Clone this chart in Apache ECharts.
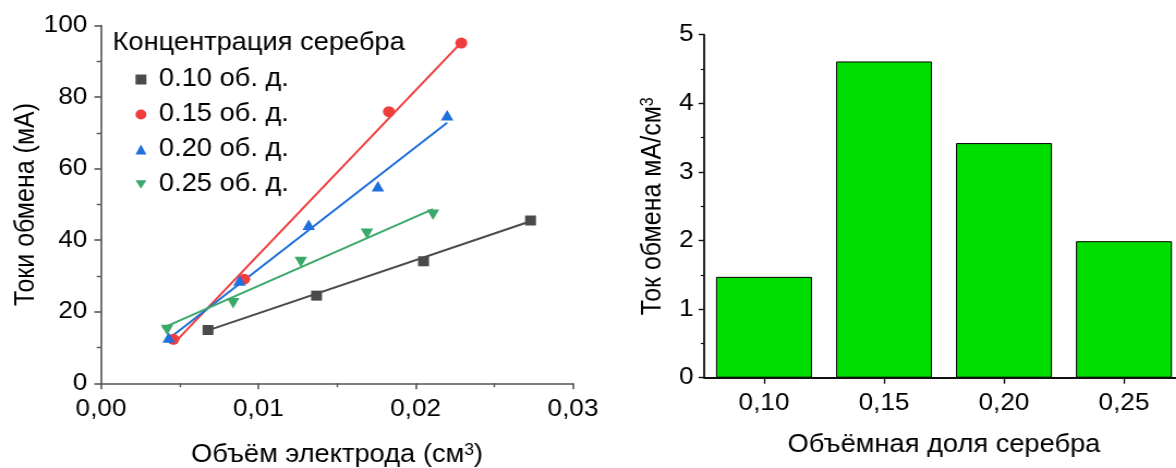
<!DOCTYPE html>
<html>
<head>
<meta charset="utf-8">
<script src="https://cdn.jsdelivr.net/npm/echarts@6/dist/echarts.min.js"></script>
<style>
  html, body { margin: 0; padding: 0; background: #fff; overflow: hidden; }
  #chart { height: 468px; transform-origin: 0 0; }
</style>
</head>
<body>
<div id="chart"></div>
<script>
// Measured exchange currents vs. electrode volume, per silver fraction
const seriesNames = ['0.10 об. д.', '0.15 об. д.', '0.20 об. д.', '0.25 об. д.'];

const volume010 = [0.0068, 0.0137, 0.0205, 0.0273];
const current010 = [14.9, 24.5, 34.1, 45.5];

const volume015 = [0.0046, 0.0091, 0.0183, 0.0229];
const current015 = [12.3, 29.1, 75.9, 95.1];

const volume020 = [0.0043, 0.0088, 0.0132, 0.0176, 0.0220];
const current020 = [12.8, 28.7, 44.3, 55.1, 74.9];

const volume025 = [0.0042, 0.0084, 0.0127, 0.0169, 0.0211];
const current025 = [14.9, 22.4, 33.9, 41.8, 47.1];

// Linear fit lines: [x start, x end] and [y start, y end]
const fitX010 = [0.0068, 0.0273];
const fitY010 = [14.8, 45.3];
const fitX015 = [0.0046, 0.0228];
const fitY015 = [11.0, 94.8];
const fitX020 = [0.0042, 0.0220];
const fitY020 = [12.1, 72.8];
const fitX025 = [0.0039, 0.0211];
const fitY025 = [15.4, 48.7];

// Exchange current per unit volume vs. silver volume fraction
const fractionCategories = ['0,10', '0,15', '0,20', '0,25'];
const currentDensity = [1.47, 4.61, 3.42, 1.99];

const colors = ['#4a4a4a', '#f03d3d', '#1f6fdc', '#3aa96a'];

// horizontal stretch applied to the whole drawing
const S = 1.09;
const sx = v => v / S;

const el = document.getElementById('chart');
el.style.width = (1176 / S) + 'px';
el.style.transform = 'scaleX(' + S + ')';

const font = 'Liberation Sans, Arial, sans-serif';
const pairs = (xs, ys) => xs.map((x, i) => [x, ys[i]]);

const pointSets = [
  pairs(volume010, current010),
  pairs(volume015, current015),
  pairs(volume020, current020),
  pairs(volume025, current025)
];
const fitSets = [
  pairs(fitX010, fitY010),
  pairs(fitX015, fitY015),
  pairs(fitX020, fitY020),
  pairs(fitX025, fitY025)
];
const downTriangle = 'path://M0,0 L12,0 L6,10 Z';
const symbols = ['rect', 'circle', 'triangle', downTriangle];
const symbolSizes = [10, 11, [11.5, 10.5], [11.5, 10.5]];

const leftAxisColor = '#555';
const rightAxisColor = '#111';

const series = [];
fitSets.forEach((d, i) => {
  series.push({
    name: 'Аппроксимация ' + seriesNames[i],
    type: 'line',
    xAxisIndex: 0, yAxisIndex: 0,
    data: d,
    symbol: 'none',
    lineStyle: { color: colors[i], width: 2 },
    itemStyle: { color: colors[i] },
    z: 2,
    silent: true
  });
});
pointSets.forEach((d, i) => {
  series.push({
    name: seriesNames[i],
    type: 'scatter',
    xAxisIndex: 0, yAxisIndex: 0,
    data: d,
    symbol: symbols[i],
    symbolSize: symbolSizes[i],
    itemStyle: { color: colors[i], opacity: 1 },
    z: 3
  });
});
series.push({
  type: 'bar',
  name: 'Ток обмена',
  xAxisIndex: 1, yAxisIndex: 1,
  data: currentDensity,
  barWidth: '80%',
  itemStyle: { color: '#00dd00', borderColor: '#000', borderWidth: 1 }
});

const chart = echarts.init(el, null, { renderer: 'canvas' });
chart.setOption({
  animation: false,
  backgroundColor: '#fff',
  textStyle: { fontFamily: font },
  title: {
    text: 'Концентрация серебра',
    left: sx(112.5),
    top: 29,
    padding: 0,
    textStyle: { fontFamily: font, fontSize: 25, fontWeight: 'normal', color: '#000', lineHeight: 28 }
  },
  legend: {
    data: seriesNames,
    orient: 'vertical',
    left: sx(135.5),
    top: 62,
    padding: 0,
    itemGap: 0,
    itemWidth: 10,
    itemHeight: 10,
    selectedMode: false,
    textStyle: { fontFamily: font, fontSize: 25, color: '#000', lineHeight: 35, padding: [0, 0, 0, 6.5] }
  },
  grid: [
    { left: sx(101), width: sx(472), top: 25.5, height: 357.8, outerBoundsMode: 'none' },
    { left: sx(704), width: sx(480), top: 34.7, height: 343, outerBoundsMode: 'none' }
  ],
  xAxis: [
    {
      type: 'value', gridIndex: 0,
      min: 0, max: 0.03, interval: 0.01,
      axisLine: { show: true, onZero: false, lineStyle: { color: leftAxisColor, width: 1.6 } },
      axisTick: { show: true, inside: false, length: 6, lineStyle: { color: leftAxisColor, width: 1.6 } },
      minorTick: { show: true, splitNumber: 2, length: 4, lineStyle: { color: leftAxisColor, width: 1.4 } },
      splitLine: { show: false },
      axisLabel: { fontFamily: font, fontSize: 24, color: '#000', margin: 14,
        formatter: v => v.toFixed(2).replace('.', ',') },
      name: 'Объём электрода (см{sup|3})',
      nameLocation: 'middle',
      nameGap: 59,
      nameTextStyle: { fontFamily: font, fontSize: 25, color: '#000',
        rich: { sup: { fontFamily: font, fontSize: 16, color: '#000', verticalAlign: 'top' } } }
    },
    {
      type: 'category', gridIndex: 1,
      data: fractionCategories,
      axisLine: { show: true, lineStyle: { color: rightAxisColor, width: 1.8 } },
      axisTick: { show: true, alignWithLabel: true, inside: false, length: 6, lineStyle: { color: rightAxisColor, width: 1.4 } },
      splitLine: { show: false },
      axisLabel: { fontFamily: font, fontSize: 24, color: '#000', margin: 14 },
      name: 'Объёмная доля серебра',
      nameLocation: 'middle',
      nameGap: 55,
      nameTextStyle: { fontFamily: font, fontSize: 25, color: '#000' }
    }
  ],
  yAxis: [
    {
      type: 'value', gridIndex: 0,
      min: 0, max: 100, interval: 20,
      axisLine: { show: true, onZero: false, lineStyle: { color: leftAxisColor, width: 1.6 } },
      axisTick: { show: true, inside: false, length: 6, lineStyle: { color: leftAxisColor, width: 1.6 } },
      minorTick: { show: true, splitNumber: 2, length: 4, lineStyle: { color: leftAxisColor, width: 1.4 } },
      splitLine: { show: false },
      axisLabel: { fontFamily: font, fontSize: 24, color: '#000', margin: 12.5 },
      name: 'Токи обмена (мА)',
      nameLocation: 'middle',
      nameGap: 52,
      nameTextStyle: { fontFamily: font, fontSize: 25, color: '#000' }
    },
    {
      type: 'value', gridIndex: 1,
      min: 0, max: 5, interval: 1,
      axisLine: { show: true, onZero: false, lineStyle: { color: rightAxisColor, width: 1.8 } },
      axisTick: { show: true, inside: false, length: 5, lineStyle: { color: rightAxisColor, width: 1.4 } },
      minorTick: { show: true, splitNumber: 2, length: 3, lineStyle: { color: rightAxisColor, width: 1.2 } },
      splitLine: { show: false },
      axisLabel: { fontFamily: font, fontSize: 24, color: '#000', margin: 9.5 },
      name: 'Ток обмена мА/см{sup|3}',
      nameLocation: 'middle',
      nameGap: 34,
      nameTextStyle: { fontFamily: font, fontSize: 25, color: '#000',
        rich: { sup: { fontFamily: font, fontSize: 16, color: '#000', verticalAlign: 'top' } } }
    }
  ],
  series: series
});
</script>
</body>
</html>
